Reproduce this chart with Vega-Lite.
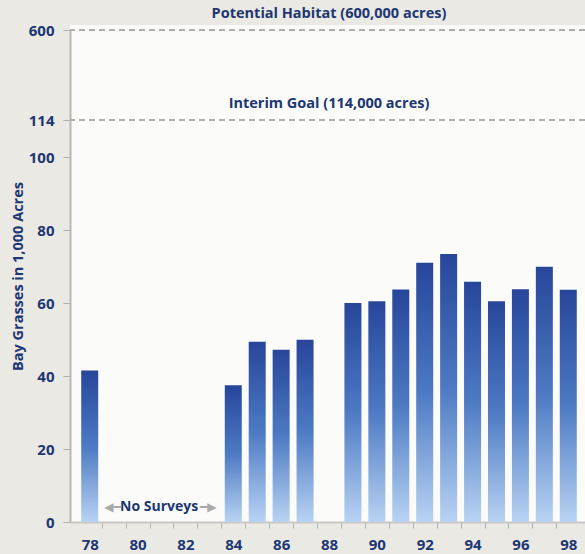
{
  "$schema": "https://vega.github.io/schema/vega-lite/v6.json",
  "width": 515,
  "height": 497,
  "autosize": {"type": "none"},
  "padding": {"left": 70, "top": 25, "right": 0, "bottom": 32},
  "background": "#ebe9e3",
  "config": {
    "view": {"fill": "#fbfbfa", "stroke": null},
    "font": "Open Sans"
  },
  "datasets": {
    "grass": [
      {"year": 78, "acres": 41.5},
      {"year": 84, "acres": 37.5},
      {"year": 85, "acres": 49.4},
      {"year": 86, "acres": 47.2},
      {"year": 87, "acres": 49.9},
      {"year": 89, "acres": 60},
      {"year": 90, "acres": 60.5},
      {"year": 91, "acres": 63.7},
      {"year": 92, "acres": 71},
      {"year": 93, "acres": 73.4},
      {"year": 94, "acres": 65.8},
      {"year": 95, "acres": 60.5},
      {"year": 96, "acres": 63.8},
      {"year": 97, "acres": 69.9},
      {"year": 98, "acres": 63.6}
    ],
    "goals": [
      {"acres": 600, "label": "Potential Habitat (600,000 acres)", "year": 88},
      {"acres": 114, "label": "Interim Goal (114,000 acres)", "year": 88}
    ],
    "nosurvey": [
      {"year": 80.9, "acres": 4, "label": "No Surveys"}
    ],
    "arrows": [
      {"year": 78.95, "acres": 4, "label": "◀━"},
      {"year": 82.95, "acres": 4, "label": "━▶"}
    ]
  },
  "encoding": {
    "x": {
      "field": "year",
      "type": "quantitative",
      "scale": {"domain": [77.385, 98.49], "nice": false, "zero": false},
      "axis": {
        "title": null,
        "values": [78, 78.5, 79, 79.5, 80, 80.5, 81, 81.5, 82, 82.5, 83, 83.5, 84, 84.5, 85, 85.5, 86, 86.5, 87, 87.5, 88, 88.5, 89, 89.5, 90, 90.5, 91, 91.5, 92, 92.5, 93, 93.5, 94, 94.5, 95, 95.5, 96, 96.5, 97, 97.5, 98],
        "labelExpr": "datum.value % 2 == 0 ? datum.value : ''",
        "tickOpacity": {"condition": {"test": "datum.value % 1 == 0", "value": 0}, "value": 1},
        "tickColor": "#b3b1ab",
        "tickSize": 6,
        "domainColor": "#c9c7c1",
        "domainWidth": 2,
        "grid": false,
        "labelFont": "Open Sans",
        "labelFontWeight": "bold",
        "labelFontSize": 15,
        "labelColor": "#1c3772",
        "labelPadding": 9,
        "labelFlush": false,
        "labelOverlap": false
      }
    },
    "y": {
      "field": "acres",
      "type": "quantitative",
      "scale": {"domain": [0, 100, 114, 600], "range": [497, 132, 95, 5], "nice": false, "zero": false},
      "axis": {
        "title": "Bay Grasses in 1,000 Acres",
        "values": [0, 20, 40, 60, 80, 100, 114, 600],
        "tickColor": "#b3b1ab",
        "tickSize": 7,
        "domainColor": "#b9b7b1",
        "domainWidth": 2,
        "grid": false,
        "labelFont": "Open Sans",
        "labelFontWeight": "bold",
        "labelFontSize": 15,
        "labelColor": "#1c3772",
        "labelPadding": 9,
        "titleFont": "Open Sans",
        "titleFontWeight": "bold",
        "titleFontSize": 14.5,
        "titleColor": "#1c3772",
        "titlePadding": 3
      }
    }
  },
  "layer": [
    {
      "data": {"name": "grass"},
      "mark": {
        "type": "bar",
        "size": 17,
        "fill": {
          "gradient": "linear",
          "x1": 0, "y1": 0, "x2": 0, "y2": 1,
          "stops": [
            {"offset": 0, "color": "#27469a"},
            {"offset": 0.5, "color": "#4d7ac3"},
            {"offset": 1, "color": "#b8d3f3"}
          ]
        }
      }
    },
    {
      "data": {"name": "goals"},
      "mark": {"type": "rule", "color": "#b0aea8", "strokeDash": [6, 4], "strokeWidth": 2},
      "encoding": {"x": null}
    },
    {
      "data": {"name": "goals"},
      "mark": {"type": "text", "dy": -16, "font": "Open Sans", "fontWeight": "bold", "fontSize": 14.5, "color": "#1c3772"},
      "encoding": {"text": {"field": "label"}}
    },
    {
      "data": {"name": "nosurvey"},
      "mark": {"type": "text", "font": "Open Sans", "fontWeight": "bold", "fontSize": 14, "color": "#1c3772"},
      "encoding": {"text": {"field": "label"}}
    },
    {
      "data": {"name": "arrows"},
      "mark": {"type": "text", "font": "DejaVu Sans", "fontSize": 12, "color": "#aaaaaa"},
      "encoding": {"text": {"field": "label"}}
    }
  ]
}
